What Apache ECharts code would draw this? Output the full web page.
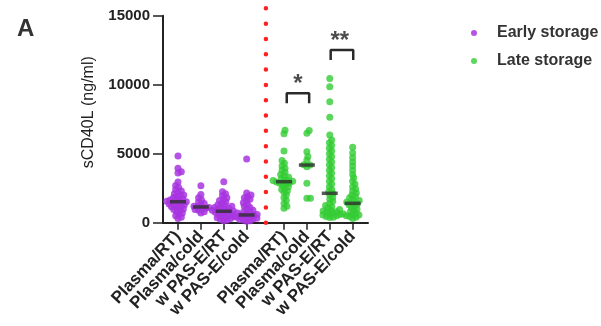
<!DOCTYPE html>
<html>
<head>
<meta charset="utf-8">
<title>sCD40L</title>
<script src="https://cdn.jsdelivr.net/npm/echarts@6/dist/echarts.min.js"></script>
<style>
  html, body { margin: 0; padding: 0; background: #fff; }
</style>
</head>
<body>
<div id="main" style="width: 601px;height:326px;"></div>
<script type="text/javascript">
// category labels and where the ticks sit on the x value axis
var categories = ['Plasma/RT)', 'Plasma/cold', 'w PAS-E/RT', 'w PAS-E/cold'];
var earlyPos = [1, 2, 3, 4];
var latePos = [5.63, 6.63, 7.63, 8.63];
var dividerPos = 4.84;

// early storage values (ng/ml)
var earlyPlasmaRT = [4830, 3950, 3700, 3600, 2950, 2700, 2550, 2400, 2300, 2200, 2100, 2000, 1950, 1900, 1800, 1750, 1700, 1650, 1600, 1550, 1520, 1500, 1450, 1400, 1350, 1300, 1250, 1200, 1150, 1100, 1000, 950, 900, 800, 700, 600, 500, 400, 300];
var earlyPlasmaCold = [2680, 2050, 1800, 1650, 1500, 1400, 1300, 1200, 1150, 1100, 1050, 1000, 950, 900, 800, 700];
var earlyPasRT = [2970, 2250, 2100, 1950, 1800, 1700, 1600, 1500, 1400, 1300, 1250, 1200, 1150, 1100, 1050, 1000, 950, 900, 850, 830, 800, 750, 700, 650, 600, 550, 500, 450, 400, 350, 300, 250, 200, 150];
var earlyPasCold = [4620, 2150, 2000, 1900, 1800, 1700, 1600, 1450, 1300, 1200, 1100, 1000, 900, 800, 750, 700, 650, 600, 560, 520, 480, 440, 400, 360, 320, 280, 240, 200, 150, 100];
var earlyMedians = [1520, 1140, 830, 560];

// late storage values
var latePlasmaRT = [6700, 6450, 5200, 4500, 4300, 4100, 3950, 3800, 3650, 3500, 3400, 3300, 3200, 3100, 3050, 3000, 2970, 2950, 2900, 2850, 2800, 2700, 2600, 2500, 2400, 2300, 2200, 2000, 1800, 1600, 1400, 1200, 1050];
var latePlasmaCold = [6680, 6480, 5150, 4800, 4550, 4200, 4180, 4060, 2850, 1780, 1770];
var latePasRT = [10450, 9850, 8770, 7640, 6350, 6000, 5800, 5600, 5400, 5200, 5000, 4800, 4600, 4400, 4200, 4000, 3800, 3600, 3400, 3200, 3000, 2800, 2600, 2400, 2250, 2130, 2000, 1850, 1700, 1550, 1400, 1250, 1150, 1050, 950, 900, 850, 800, 750, 700, 650, 600, 550, 500, 450, 400, 380];
var latePasCold = [5460, 5050, 4700, 4400, 4100, 3800, 3500, 3250, 3000, 2800, 2600, 2450, 2300, 2150, 2000, 1900, 1800, 1700, 1600, 1500, 1440, 1380, 1300, 1200, 1100, 1000, 900, 800, 700, 650, 600, 550, 500, 450, 400, 300];
var lateMedians = [2970, 4180, 2130, 1400];

// significance brackets [x1, x2, yBottom, yTop] and star labels
var brackets = [[5.75, 6.73, 8650, 9380], [7.67, 8.655, 11790, 12510]];
var stars = [[6.24, 10050, '*'], [8.07, 13115, '**']];

var myChart = echarts.init(document.getElementById('main'));
var FONT = 'Liberation Sans, Arial, sans-serif';

// rough pixel scales of the plot area, only used to lay the swarm out
var PX_PER_X = 22.9;
var PX_PER_Y = 207 / 15000;

// beeswarm: put each point as close to the centre as it can go without too much overlap
function swarm(values, center) {
  var sorted = values.slice().sort(function(a, b) { return a - b; });
  var placed = [];
  var D = 3.6;
  var out = [];
  sorted.forEach(function(v) {
    var py = v * PX_PER_Y;
    var cands = [0];
    placed.forEach(function(p) {
      var dy = Math.abs(p.y - py);
      if (dy < D) {
        var dx = Math.sqrt(D * D - dy * dy);
        cands.push(p.x + dx, p.x - dx);
      }
    });
    cands.sort(function(a, b) { return Math.abs(a) - Math.abs(b); });
    var best = 0;
    for (var i = 0; i < cands.length; i++) {
      var c = cands[i], ok = true;
      for (var j = 0; j < placed.length; j++) {
        var ddx = placed[j].x - c, ddy = placed[j].y - py;
        if (ddx * ddx + ddy * ddy < D * D - 0.01) { ok = false; break; }
      }
      if (ok) { best = c; break; }
    }
    placed.push({ x: best, y: py });
    out.push([center + best / PX_PER_X, v]);
  });
  return out;
}

var earlyGroups = [earlyPlasmaRT, earlyPlasmaCold, earlyPasRT, earlyPasCold];
var lateGroups = [latePlasmaRT, latePlasmaCold, latePasRT, latePasCold];

var earlyData = [], lateData = [], medianData = [];
earlyGroups.forEach(function(g, i) { earlyData = earlyData.concat(swarm(g, earlyPos[i])); });
lateGroups.forEach(function(g, i) { lateData = lateData.concat(swarm(g, latePos[i])); });
earlyMedians.forEach(function(m, i) { medianData.push([earlyPos[i], m]); });
lateMedians.forEach(function(m, i) { medianData.push([latePos[i], m]); });

var tickPos = earlyPos.concat(latePos);

// the rotated labels crowd each other, so each category gets its own
// (overlaid) x axis carrying just its two labels; only the first draws line + ticks
var xAxes = categories.map(function(name, i) {
  var vals = [earlyPos[i], latePos[i]];
  return {
    type: 'value', min: 0.345, max: 9.3, gridIndex: 0,
    position: 'bottom', offset: 0,
    splitLine: { show: false },
    axisLine: { show: i === 0, onZero: false, lineStyle: { color: '#222', width: 2 } },
    axisTick: { show: i === 0, customValues: tickPos, length: 7, lineStyle: { color: '#222', width: 1.5 } },
    axisLabel: {
      customValues: vals, rotate: 47, margin: 11,
      fontFamily: FONT, fontSize: 17, fontWeight: 'bold', color: '#222',
      formatter: function() { return name; }
    }
  };
});

var bracketSeries = brackets.map(function(b) {
  return {
    type: 'line', name: 'bracket', symbol: 'none', silent: true, z: 4,
    lineStyle: { color: '#2a2a2a', width: 2.5 },
    data: [[b[0], b[2]], [b[0], b[3]], [b[1], b[3]], [b[1], b[2]]]
  };
});

var option = {
  animation: false,
  grid: { left: 163, right: 233, top: 15.7, bottom: 103.3, containLabel: false, outerBoundsMode: 'none' },
  graphic: [{
    type: 'text', left: 17, top: 17,
    style: { text: 'A', font: 'bold 24px ' + FONT, fill: '#333' }
  }],
  legend: {
    data: ['Early storage', 'Late storage'],
    orient: 'vertical', left: 466, top: 20,
    icon: 'circle', itemWidth: 36, itemHeight: 6, itemGap: 12,
    textStyle: { fontFamily: FONT, fontSize: 16, fontWeight: 'bold', color: '#333', lineHeight: 16 }
  },
  xAxis: xAxes,
  yAxis: {
    type: 'value', min: 0, max: 15000, interval: 5000,
    name: 'sCD40L (ng/ml)', nameLocation: 'middle', nameGap: 66,
    nameTextStyle: { fontFamily: FONT, fontSize: 16, color: '#222', padding: [0, 0, 0, 14] },
    splitLine: { show: false },
    axisLine: { show: true, lineStyle: { color: '#222', width: 2 } },
    axisTick: { show: true, length: 10, lineStyle: { color: '#222', width: 1.5 } },
    axisLabel: {
      margin: 13, fontFamily: FONT, fontSize: 15, fontWeight: 'bold', color: '#222',
      formatter: function(v) { return String(v); }
    }
  },
  series: [{
    type: 'line', name: 'divider', symbol: 'none', silent: true, clip: false,
    lineStyle: { color: '#ff2020', width: 4.5, type: [0.01, 15.3], cap: 'round' },
    data: [[dividerPos, 0], [dividerPos, 15700]]
  }, {
    type: 'scatter', name: 'Early storage', symbolSize: 7,
    itemStyle: { color: '#a835e0', opacity: 0.85 },
    data: earlyData
  }, {
    type: 'scatter', name: 'Late storage', symbolSize: 7,
    itemStyle: { color: '#33cc33' },
    data: lateData
  }, {
    type: 'scatter', name: 'median', symbol: 'rect', symbolSize: [16, 3.5], z: 5, silent: true,
    itemStyle: { color: '#2e2e2e' },
    data: medianData
  }, {
    type: 'scatter', name: 'stars', symbolSize: 0, silent: true, z: 5,
    label: {
      show: true, position: 'inside', color: '#1e1e1e',
      fontFamily: FONT, fontSize: 24, fontWeight: 'bold',
      formatter: function(p) { return p.data[2]; }
    },
    data: stars
  }].concat(bracketSeries)
};

myChart.setOption(option);
</script>
</body>
</html>
